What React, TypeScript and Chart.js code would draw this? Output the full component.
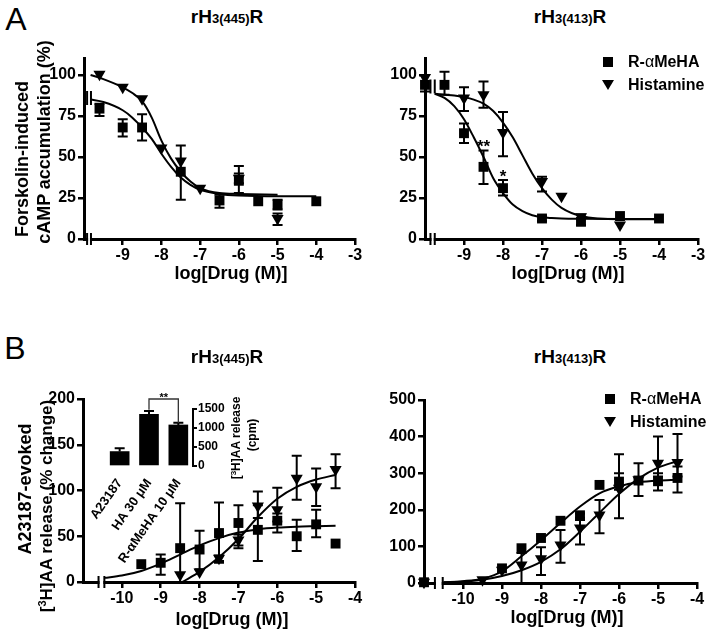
import React, { useEffect, useRef } from "react";
import { Chart, registerables } from "chart.js";
Chart.register(...registerables);

const FF = '"Liberation Sans", Arial, Helvetica, sans-serif';

// ---------------- Panel A left: rH3(445)R, cAMP ----------------
const aL_sqX = [-9.6, -9, -8.5, -7.5, -6.5, -6, -5.5, -5, -4];
const aL_sqY = [79.5, 68, 68, 41, 23.5, 35.5, 23, 21, 23];
const aL_sqHi = [82.5, 73, 76, 57, 27, 44.5, null, 24, null];
const aL_sqLo = [75, 62.5, 60, 24, 19, 28, null, 18, null];
const aL_trX = [-9.6, -9, -8.5, -8, -7.5, -7, -6, -5];
const aL_trY = [100.5, 92.5, 85.5, 55.5, 47.5, 31, 37, 12.5];
const aL_trHi = [null, null, null, null, null, null, 40, 15.5];
const aL_trLo = [null, null, null, null, null, null, 34, 8.5];
const aL_sqCurveX = [-9.83, -9.5, -9, -8.75, -8.5, -8.25, -8, -7.75, -7.5, -7.25, -7, -6.5, -6, -5, -4];
const aL_sqCurveY = [85, 83.5, 78.5, 74, 68, 61, 52, 44, 37.5, 33, 30, 27.5, 26.5, 26, 26];
const aL_trCurveX = [-9.83, -9.5, -9, -8.75, -8.5, -8.25, -8, -7.75, -7.5, -7.25, -7, -6.5, -6, -5];
const aL_trCurveY = [100, 97.5, 92.5, 89, 84, 74, 60, 49, 41, 35, 31, 28, 27.5, 27];

// ---------------- Panel A right: rH3(413)R, cAMP ----------------
const aR_sqX = [-10, -9.5, -9, -8.5, -8, -7, -6, -5, -4];
const aR_sqY = [94, 94, 64.5, 44, 31, 12.5, 10.5, 14, 12.5];
const aR_sqHi = [100, 102, 70.5, 54, 36, 14, 12.5, null, null];
const aR_sqLo = [90, 88, 58.5, 33.5, 26.5, 11, 8.5, null, null];
const aR_trX = [-10, -9, -8.5, -8, -7, -6.5, -6, -5];
const aR_trY = [98.5, 86, 88, 65, 35, 26, 13.5, 8.5];
const aR_trHi = [null, 92.5, 96, 77.5, 38, null, 15, null];
const aR_trLo = [null, 78, 80, 50.5, 29, null, 12, null];
const aR_curveX = [-9.75, -9.5, -9.25, -9, -8.75, -8.5, -8.25, -8, -7.75, -7.5, -7.25, -7, -6.75, -6.5, -6, -5, -4];
const aR_sqCurveY = [88.5, 86, 81, 73, 62, 50, 37, 28, 21, 17, 14.5, 13.3, 12.8, 12.5, 12.3, 12.2, 12.2];
const aR_trCurveY = [88.5, 88, 87.5, 86.5, 85, 82.5, 78, 71, 62, 51, 40, 31, 24, 19, 14, 12, 12];
const aR_sigX = [-8.5, -8];
const aR_sigY = [53, 35];
const aR_sigText = ["**", "*"];

// ---------------- Panel B left: rH3(445)R, [3H]AA ----------------
const bL_sqX = [-9.5, -9, -8.5, -8, -7.5, -7, -6.5, -6, -5.5, -5, -4.5];
const bL_sqY = [19.5, 21, 37, 35.5, 53.5, 64.5, 57, 67, 50, 63, 42];
const bL_sqHi = [null, 30, 86, 56, 87, 84, 84, 75, 68, 79, null];
const bL_sqLo = [null, 8, 0, 14, 21, 37, 23, 54, 34, 49, null];
const bL_trX = [-8.5, -8, -7.5, -7, -6.5, -6, -5.5, -5, -4.5];
const bL_trY = [8, 11, 26, 46, 83, 79, 113.5, 104, 123];
const bL_trHi = [null, null, 29, 52, 99, 103, 138, 124, 139.5];
const bL_trLo = [null, null, 23, 40, 70, 66, 90, 83, 102.5];
const bL_sqCurveX = [-10.45, -10, -9.5, -9, -8.5, -8, -7.5, -7, -6.5, -6, -5.5, -5, -4.5];
const bL_sqCurveY = [4.5, 7, 12, 20, 30, 40, 48, 54, 57.5, 59.5, 60.5, 61, 61.5];
const bL_trCurveX = [-8.45, -8, -7.5, -7, -6.5, -6, -5.5, -5, -4.5];
const bL_trCurveY = [0, 11, 27, 47, 71, 91, 104, 112, 117];

// inset bar chart
const insetLabels = ["A23187", "HA 30 μM", "R-αMeHA 10 μM"];
const insetValues = [380, 1360, 1080];
const insetErrHi = [465, 1447, 1140];
const insetTicks = [0, 500, 1000, 1500];
const insetBracketY = [1480, 1763, 1132];

// ---------------- Panel B right: rH3(413)R, [3H]AA ----------------
const bR_sqX = [-11, -9, -8.5, -8, -7.5, -7, -6.5, -6, -5.5, -5, -4.5];
const bR_sqY = [2, 40, 95, 123, 170, 185, 268, 277, 280, 278, 287];
const bR_sqHi = [null, null, null, null, null, 190, null, 300, null, 300, 318];
const bR_sqLo = [null, null, null, null, null, 178, null, 255, null, 253, 247];
const bR_trX = [-11, -9.5, -9, -8.5, -8, -7.5, -7, -6.5, -6, -5.5, -5, -4.5];
const bR_trY = [2, 9, 35, 49, 66, 104, 150, 186, 259, 282, 327, 329];
const bR_trHi = [null, null, null, 82, 98, 145, 172, 227, 352, 327, 400, 407];
const bR_trLo = [null, null, null, 0, 22, 55, 105, 136, 177, 238, 291, 291];
const bR_curveX = [-10.5, -10, -9.5, -9, -8.5, -8, -7.5, -7, -6.5, -6, -5.5, -5, -4.5];
const bR_sqCurveY = [2, 5, 12, 32, 73, 117, 164, 209, 245, 264, 275, 280, 282];
const bR_trCurveY = [2, 4, 9, 19, 35, 58, 92, 140, 192, 243, 285, 315, 333];

// tick values
const xTicksA = [-9, -8, -7, -6, -5, -4, -3];
const xTicksB = [-10, -9, -8, -7, -6, -5, -4];
const yTicksA = [0, 25, 50, 75, 100];
const yTicksBL = [0, 50, 100, 150, 200];
const yTicksBR = [0, 100, 200, 300, 400, 500];

type Arr = (number | null)[];
type Series = { x: number[]; y: number[]; hi: Arr; lo: Arr; style: "rect" | "triangle" };
type Curve = { x: number[]; y: number[] };
type PanelCfg = {
  box: { left: number; top: number; width: number; height: number };
  area: { l: number; r: number; t: number; b: number };
  xMin: number; xMax: number; yMin: number; yMax: number;
  xTicks: number[]; yTicks: number[];
  series: Series[]; curves: Curve[];
  xBreak: [number, number];
  dataBreakY?: number;
  notes?: { x: number[]; y: number[]; t: string[] };
};

const pts = (xs: number[], ys: number[]) => xs.map((x, i) => ({ x, y: ys[i] }));

function Panel({ cfg }: { cfg: PanelCfg }) {
  const ref = useRef<HTMLCanvasElement>(null);
  useEffect(() => {
    const { box, area } = cfg;
    const yW = area.l - box.left;
    const xH = box.top + box.height - area.b;
    const padTop = area.t - box.top;
    const padRight = box.left + box.width - area.r;
    const extras = {
      id: "extras",
      beforeDatasetsDraw(chart: any) {
        const ctx = chart.ctx;
        const xs = chart.scales.x, ys = chart.scales.y;
        ctx.save();
        ctx.strokeStyle = "#000";
        ctx.lineWidth = 2;
        cfg.series.forEach((s) => {
          s.x.forEach((xv, i) => {
            const px = xs.getPixelForValue(xv);
            const py = ys.getPixelForValue(s.y[i]);
            [s.hi[i], s.lo[i]].forEach((v) => {
              if (v == null) return;
              const ey = ys.getPixelForValue(v);
              ctx.beginPath();
              ctx.moveTo(px, py);
              ctx.lineTo(px, ey);
              ctx.moveTo(px - 5, ey);
              ctx.lineTo(px + 5, ey);
              ctx.stroke();
            });
          });
        });
        ctx.restore();
      },
      afterDraw(chart: any) {
        const ctx = chart.ctx;
        const xs = chart.scales.x, ys = chart.scales.y;
        const x1 = xs.getPixelForValue(cfg.xBreak[0]);
        const x2 = xs.getPixelForValue(cfg.xBreak[1]);
        const y0 = ys.getPixelForValue(cfg.yMin);
        ctx.save();
        ctx.fillStyle = "#fff";
        ctx.fillRect(x1 + 1, y0 - 3, x2 - x1 - 2, 6);
        ctx.strokeStyle = "#000";
        ctx.lineWidth = 2;
        ctx.beginPath();
        ctx.moveTo(x1, y0 - 6); ctx.lineTo(x1, y0 + 6);
        ctx.moveTo(x2, y0 - 6); ctx.lineTo(x2, y0 + 6);
        if (cfg.dataBreakY != null) {
          const yb = ys.getPixelForValue(cfg.dataBreakY);
          ctx.moveTo(x1, yb - 7); ctx.lineTo(x1, yb + 7);
          ctx.moveTo(x2, yb - 7); ctx.lineTo(x2, yb + 7);
        }
        ctx.stroke();
        if (cfg.notes) {
          ctx.fillStyle = "#000";
          ctx.font = `bold 17px ${FF}`;
          ctx.textAlign = "center";
          ctx.textBaseline = "alphabetic";
          cfg.notes.x.forEach((xv, i) => {
            ctx.fillText(cfg.notes!.t[i], xs.getPixelForValue(xv), ys.getPixelForValue(cfg.notes!.y[i]));
          });
        }
        ctx.restore();
      },
    };
    const datasets: any[] = [];
    cfg.series.forEach((s) => {
      datasets.push({
        data: pts(s.x, s.y),
        pointStyle: s.style,
        rotation: s.style === "triangle" ? 180 : 0,
        pointRadius: 7,
        backgroundColor: "#000",
        borderColor: "#000",
        borderWidth: 0,
        showLine: false,
        clip: false,
        order: 0,
      });
    });
    cfg.curves.forEach((c) => {
      datasets.push({
        data: pts(c.x, c.y),
        showLine: true,
        pointRadius: 0,
        borderColor: "#000",
        borderWidth: 2,
        cubicInterpolationMode: "monotone",
        clip: false,
        order: 1,
      });
    });
    const tickFont = { family: FF, size: 16, weight: "bold" as const };
    const chart = new Chart(ref.current!, {
      type: "scatter",
      data: { datasets },
      plugins: [extras],
      options: {
        responsive: false,
        animation: false,
        events: [],
        layout: { padding: { top: padTop, right: padRight, left: 0, bottom: 0 } },
        plugins: { legend: { display: false }, tooltip: { enabled: false } },
        scales: {
          x: {
            type: "linear",
            position: "bottom",
            min: cfg.xMin,
            max: cfg.xMax,
            afterBuildTicks: (s: any) => { s.ticks = cfg.xTicks.map((v) => ({ value: v })); },
            afterFit: (s: any) => { s.height = xH; s.paddingLeft = 0; s.paddingRight = 0; },
            grid: { drawOnChartArea: false, drawTicks: true, tickLength: 6, lineWidth: 2.5, color: "#000" },
            border: { display: true, width: 3, color: "#000" },
            ticks: { font: tickFont, color: "#000", padding: 1, maxRotation: 0, autoSkip: false, callback: (v: any) => String(v) },
          },
          y: {
            type: "linear",
            position: "left",
            min: cfg.yMin,
            max: cfg.yMax,
            afterBuildTicks: (s: any) => { s.ticks = cfg.yTicks.map((v) => ({ value: v })); },
            afterFit: (s: any) => { s.width = yW; s.paddingTop = 0; s.paddingBottom = 0; },
            grid: { drawOnChartArea: false, drawTicks: true, tickLength: 6, lineWidth: 2.5, color: "#000" },
            border: { display: true, width: 3, color: "#000" },
            ticks: { font: tickFont, color: "#000", padding: 2, autoSkip: false, callback: (v: any) => String(v) },
          },
        },
      } as any,
    });
    return () => chart.destroy();
  }, [cfg]);
  const { box } = cfg;
  return (
    <canvas
      ref={ref}
      width={box.width}
      height={box.height}
      style={{ position: "absolute", left: box.left, top: box.top, width: box.width, height: box.height }}
    />
  );
}

function Inset() {
  const ref = useRef<HTMLCanvasElement>(null);
  useEffect(() => {
    const box = { left: 60, top: 380, width: 200, height: 200 };
    const area = { l: 105, r: 193, t: 409, b: 466 };
    const extras = {
      id: "insetExtras",
      afterDatasetsDraw(chart: any) {
        const ctx = chart.ctx;
        const xs = chart.scales.x, ys = chart.scales.y;
        ctx.save();
        ctx.strokeStyle = "#000";
        ctx.lineWidth = 2;
        insetValues.forEach((v, i) => {
          const px = xs.getPixelForValue(i);
          const top = ys.getPixelForValue(v);
          const e = ys.getPixelForValue(insetErrHi[i]);
          ctx.beginPath();
          ctx.moveTo(px, top); ctx.lineTo(px, e);
          ctx.moveTo(px - 5, e); ctx.lineTo(px + 5, e);
          ctx.stroke();
        });
        const bx1 = xs.getPixelForValue(1), bx2 = xs.getPixelForValue(2);
        ctx.strokeStyle = "#333";
        ctx.lineWidth = 1.3;
        ctx.beginPath();
        ctx.moveTo(bx1, ys.getPixelForValue(insetBracketY[0]));
        ctx.lineTo(bx1, ys.getPixelForValue(insetBracketY[1]));
        ctx.lineTo(bx2, ys.getPixelForValue(insetBracketY[1]));
        ctx.lineTo(bx2, ys.getPixelForValue(insetBracketY[2]));
        ctx.stroke();
        ctx.fillStyle = "#000";
        ctx.font = `bold 11px ${FF}`;
        ctx.textAlign = "center";
        ctx.textBaseline = "alphabetic";
        ctx.fillText("**", (bx1 + bx2) / 2, ys.getPixelForValue(insetBracketY[1]) + 2);
        ctx.restore();
      },
    };
    const chart = new Chart(ref.current!, {
      type: "bar",
      data: {
        labels: insetLabels,
        datasets: [{ data: insetValues, backgroundColor: "#000", barThickness: 19 }],
      },
      plugins: [extras],
      options: {
        responsive: false,
        animation: false,
        events: [],
        layout: { padding: { top: area.t - box.top, left: area.l - box.left, right: 0, bottom: 0 } },
        plugins: { legend: { display: false }, tooltip: { enabled: false } },
        scales: {
          x: {
            afterFit: (s: any) => { s.height = box.top + box.height - area.b; s.paddingLeft = 0; s.paddingRight = 0; },
            grid: { display: false, drawTicks: false },
            border: { display: false },
            ticks: { font: { family: FF, size: 13, weight: "bold" }, color: "#000", minRotation: 55, maxRotation: 55, padding: 10, autoSkip: false },
          },
          y: {
            position: "right",
            min: 0,
            max: 1500,
            afterBuildTicks: (s: any) => { s.ticks = insetTicks.map((v) => ({ value: v })); },
            afterFit: (s: any) => { s.width = box.left + box.width - area.r; s.paddingTop = 0; s.paddingBottom = 0; },
            grid: { drawOnChartArea: false, drawTicks: true, tickLength: 4, lineWidth: 2, color: "#000" },
            border: { display: true, width: 2, color: "#000" },
            ticks: { font: { family: FF, size: 12, weight: "bold" }, color: "#000", padding: 1, autoSkip: false, callback: (v: any) => String(v) },
          },
        },
      } as any,
    });
    return () => chart.destroy();
  }, []);
  return (
    <canvas ref={ref} width={200} height={200} style={{ position: "absolute", left: 60, top: 380, width: 200, height: 200 }} />
  );
}

const panelAL: PanelCfg = {
  box: { left: 30, top: 40, width: 340, height: 230 },
  area: { l: 84, r: 355, t: 58.6, b: 239 },
  xMin: -10, xMax: -3, yMin: 0, yMax: 110,
  xTicks: xTicksA, yTicks: yTicksA,
  series: [
    { x: aL_sqX, y: aL_sqY, hi: aL_sqHi, lo: aL_sqLo, style: "rect" },
    { x: aL_trX, y: aL_trY, hi: aL_trHi, lo: aL_trLo, style: "triangle" },
  ],
  curves: [
    { x: aL_sqCurveX, y: aL_sqCurveY },
    { x: aL_trCurveX, y: aL_trCurveY },
  ],
  xBreak: [-9.92, -9.82],
  dataBreakY: 86,
};

const panelAR: PanelCfg = {
  box: { left: 370, top: 40, width: 339, height: 230 },
  area: { l: 425, r: 698, t: 58.6, b: 239 },
  xMin: -10, xMax: -3, yMin: 0, yMax: 110,
  xTicks: xTicksA, yTicks: yTicksA,
  series: [
    { x: aR_sqX, y: aR_sqY, hi: aR_sqHi, lo: aR_sqLo, style: "rect" },
    { x: aR_trX, y: aR_trY, hi: aR_trHi, lo: aR_trLo, style: "triangle" },
  ],
  curves: [
    { x: aR_curveX, y: aR_sqCurveY },
    { x: aR_curveX, y: aR_trCurveY },
  ],
  xBreak: [-9.86, -9.75],
  dataBreakY: 93,
  notes: { x: aR_sigX, y: aR_sigY, t: aR_sigText },
};

const panelBL: PanelCfg = {
  box: { left: 30, top: 380, width: 340, height: 230 },
  area: { l: 83, r: 355, t: 399, b: 582 },
  xMin: -11, xMax: -4, yMin: 0, yMax: 200,
  xTicks: xTicksB, yTicks: yTicksBL,
  series: [
    { x: bL_sqX, y: bL_sqY, hi: bL_sqHi, lo: bL_sqLo, style: "rect" },
    { x: bL_trX, y: bL_trY, hi: bL_trHi, lo: bL_trLo, style: "triangle" },
  ],
  curves: [
    { x: bL_sqCurveX, y: bL_sqCurveY },
    { x: bL_trCurveX, y: bL_trCurveY },
  ],
  xBreak: [-10.6, -10.45],
};

const panelBR: PanelCfg = {
  box: { left: 370, top: 380, width: 339, height: 230 },
  area: { l: 424, r: 697, t: 400, b: 583 },
  xMin: -11, xMax: -4, yMin: 0, yMax: 500,
  xTicks: xTicksB, yTicks: yTicksBR,
  series: [
    { x: bR_sqX, y: bR_sqY, hi: bR_sqHi, lo: bR_sqLo, style: "rect" },
    { x: bR_trX, y: bR_trY, hi: bR_trHi, lo: bR_trLo, style: "triangle" },
  ],
  curves: [
    { x: bR_curveX, y: bR_sqCurveY },
    { x: bR_curveX, y: bR_trCurveY },
  ],
  xBreak: [-10.72, -10.52],
};

const abs = (x: number, y: number, extra: React.CSSProperties = {}): React.CSSProperties => ({
  position: "absolute",
  left: x,
  top: y,
  transform: "translate(-50%, -50%)",
  whiteSpace: "nowrap",
  fontFamily: FF,
  color: "#000",
  lineHeight: 1,
  ...extra,
});

const rot = (x: number, y: number, size: number): React.CSSProperties =>
  abs(x, y, { transform: "translate(-50%, -50%) rotate(-90deg)", fontWeight: "bold", fontSize: size });

function Title({ x, y, sub }: { x: number; y: number; sub: string }) {
  return (
    <div style={abs(x, y, { fontWeight: "bold", fontSize: 19 })}>
      rH<span style={{ fontSize: 13 }}>{sub}</span>R
    </div>
  );
}

function Legend({ x, y }: { x: number; y: number }) {
  const txt: React.CSSProperties = { position: "absolute", left: x + 20, fontFamily: FF, fontWeight: "bold", fontSize: 16, lineHeight: "16px", whiteSpace: "nowrap" };
  return (
    <>
      <div style={{ position: "absolute", left: x - 5, top: y - 5, width: 10, height: 10, background: "#000" }} />
      <div style={{ ...txt, top: y - 8 }}>R-<span style={{ fontWeight: "normal" }}>α</span>MeHA</div>
      <div style={{ position: "absolute", left: x - 6, top: y + 23 - 5, width: 0, height: 0, borderLeft: "6px solid transparent", borderRight: "6px solid transparent", borderTop: "10px solid #000" }} />
      <div style={{ ...txt, top: y + 23 - 8 }}>Histamine</div>
    </>
  );
}

export default function App() {
  return (
    <div style={{ position: "absolute", left: 0, top: 0, width: 709, height: 629, background: "#fff", overflow: "hidden" }}>
      <Panel cfg={panelAL} />
      <Panel cfg={panelAR} />
      <Panel cfg={panelBL} />
      <Panel cfg={panelBR} />
      <Inset />
      <div style={abs(16, 19, { fontSize: 32 })}>A</div>
      <div style={abs(15, 348, { fontSize: 32 })}>B</div>
      <Title x={227} y={16} sub="3(445)" />
      <Title x={570} y={16} sub="3(413)" />
      <Title x={227} y={356} sub="3(445)" />
      <Title x={570} y={356} sub="3(413)" />
      <div style={rot(22, 159, 18)}>Forskolin-induced</div>
      <div style={rot(44, 142, 18)}>cAMP accumulation (%)</div>
      <div style={rot(25, 489, 18)}>A23187-evoked</div>
      <div style={rot(46, 506, 17)}>[<sup style={{ fontSize: 11, verticalAlign: "0.5em" }}>3</sup>H]AA release (% change)</div>
      <div style={rot(236, 438, 12)}>[<sup style={{ fontSize: 8, verticalAlign: "0.5em" }}>3</sup>H]AA release</div>
      <div style={rot(252, 435, 12)}>(cpm)</div>
      <div style={abs(231, 273, { fontWeight: "bold", fontSize: 18 })}>log[Drug (M)]</div>
      <div style={abs(568, 273, { fontWeight: "bold", fontSize: 18 })}>log[Drug (M)]</div>
      <div style={abs(232, 619, { fontWeight: "bold", fontSize: 18 })}>log[Drug (M)]</div>
      <div style={abs(567, 617, { fontWeight: "bold", fontSize: 18 })}>log[Drug (M)]</div>
      <Legend x={608} y={62} />
      <Legend x={610} y={399} />
    </div>
  );
}
